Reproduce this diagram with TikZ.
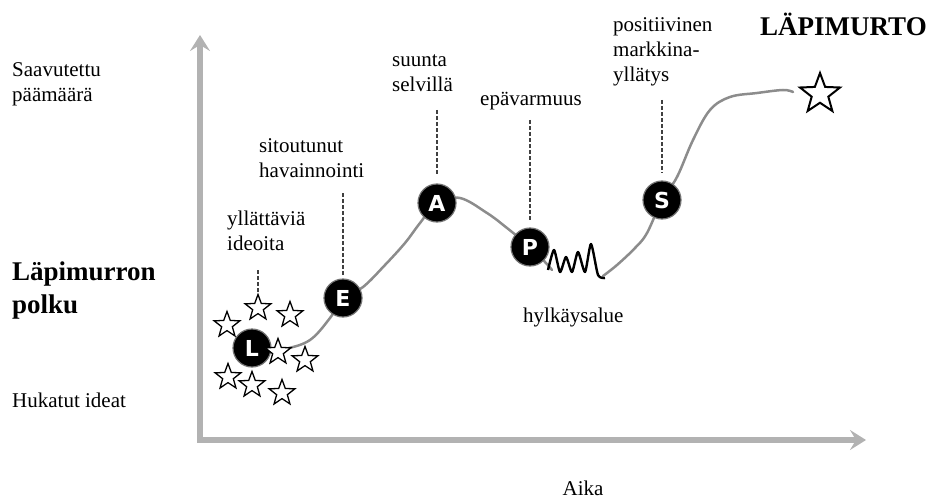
\documentclass[tikz,border=0pt]{standalone}
\usepackage{fontspec}
\setmainfont{Liberation Serif}
\newfontfamily\letterfont{DejaVu Sans}
\usetikzlibrary{shapes.geometric,arrows.meta}

\tikzstyle{phase} = [circle, fill=black, draw=black!55, line width=1.2pt, minimum size=38pt, inner sep=0pt, text=white, font=\letterfont\bfseries\fontsize{22}{22}\selectfont]
\tikzstyle{idea} = [star, star points=5, star point ratio=2.4, draw, fill=white, line width=1.3pt, minimum size=27pt, inner sep=0pt]
\tikzstyle{txt} = [align=left, anchor=base west, inner sep=0pt, font=\fontsize{21}{25}\selectfont]
\tikzstyle{heading} = [align=left, anchor=base west, inner sep=0pt, font=\bfseries\fontsize{27}{33}\selectfont]
\tikzstyle{axisline} = [draw=black!30, line width=6pt, -{Stealth[length=16pt,width=20pt,inset=6pt]}]
\tikzstyle{curve} = [draw=black!45, line width=2.5pt, line cap=round]
\tikzstyle{guide} = [draw=black!75, line width=1.6pt, dash pattern=on 4pt off 2pt]

\begin{document}
\begin{tikzpicture}[x=1pt, y=-1pt]
		\useasboundingbox (0,0) rectangle (928,500);

		% axes
		\coordinate (0) at (200,442);
		\coordinate (1) at (200,35);
		\coordinate (2) at (866,440);
		\draw [axisline] (0) -- (1);
		\draw [axisline] (197,440) -- (2);

		% path of the breakthrough
		\draw [curve] plot [smooth, tension=0.6] coordinates {(262,352) (285,349) (310,340) (330,318) (343,298) (363,287) (385,265) (405,243) (420,223) (437,203) (460,198) (487,213) (507,228) (530,247) (545,262) (552,270)};
		\draw [curve] plot [smooth, tension=0.6] coordinates {(603,276) (617,265) (635,248) (647,233) (662,200) (677,177) (693,140) (710,110) (730,97) (757,93) (783,90) (793,92)};
		\draw [black, line width=2.4pt, line join=round] plot [smooth, tension=0.4] coordinates {(548,270) (554,250) (560,272) (566,257) (572,272) (578,252) (585,272) (591,244) (598,275) (605,278)};

		\node [phase] at (252,348) (3) {L};
		\node [phase] at (343,298) (4) {E};
		\node [phase] at (437,203) (5) {A};
		\node [phase] at (530,247) (6) {P};
		\node [phase] at (662,200) (7) {S};

		\node [idea] at (258,308) (8) {};
		\node [idea] at (290,315) (9) {};
		\node [idea] at (227,325) (10) {};
		\node [idea] at (278,352) (11) {};
		\node [idea] at (305,360) (12) {};
		\node [idea] at (228,377) (13) {};
		\node [idea] at (252,385) (14) {};
		\node [idea] at (282,393) (15) {};
		\node [idea, minimum size=42pt, line width=2pt] at (820,94) (16) {};

		% dashed guides
		\coordinate (17) at (258,270);
		\coordinate (18) at (343,193);
		\coordinate (19) at (437,110);
		\coordinate (20) at (530,120);
		\coordinate (21) at (662,100);
		\draw [guide] (17) -- (8);
		\draw [guide, shorten >=3pt] (18) -- (4);
		\draw [guide, shorten >=9pt] (19) -- (5);
		\draw [guide, shorten >=6pt] (20) -- (6);
		\draw [guide, shorten >=8pt] (21) -- (7);

		% texts (base = last line)
		\node [txt] at (12,102) (22) {Saavutettu\\päämäärä};
		\node [heading] at (12,313) (23) {Läpimurron\\polku};
		\node [txt] at (12,407) (24) {Hukatut ideat};
		\node [txt, anchor=base] at (583,495) (25) {Aika};
		\node [heading] at (760,36) (26) {LÄPIMURTO};
		\node [txt] at (613,82) (27) {positiivinen\\markkina-\\yllätys};
		\node [txt] at (392,92) (28) {suunta\\selvillä};
		\node [txt] at (480,106) (29) {epävarmuus};
		\node [txt] at (259,177) (30) {sitoutunut\\havainnointi};
		\node [txt] at (227,250) (31) {yllättäviä\\ideoita};
		\node [txt] at (523,322) (32) {hylkäysalue};
	\end{tikzpicture}
\end{document}
